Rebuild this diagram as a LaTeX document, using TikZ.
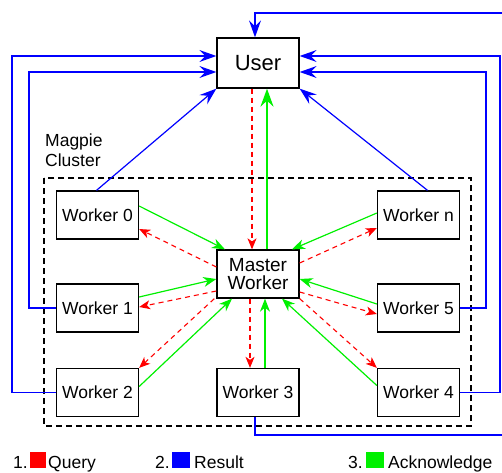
\documentclass[tikz,border=0pt]{standalone}
\usepackage{fontspec}
\setmainfont{Liberation Sans}
\usetikzlibrary{arrows.meta}
\definecolor{qred}{RGB}{255,0,0}
\definecolor{rblue}{RGB}{0,0,255}
\definecolor{agreen}{RGB}{0,240,0}
\tikzset{
  box/.style={draw=black,line width=1.3pt,minimum width=82pt,minimum height=48pt,inner sep=0pt,font=\fontsize{17.5}{20}\selectfont},
  res/.style={rblue,line width=1.2pt,-{Stealth[length=17pt,width=12pt,inset=6pt]}},
  qry/.style={qred,line width=1.1pt,dash pattern=on 5pt off 4pt,-{Stealth[length=11pt,width=9pt,inset=3pt]}},
  ack/.style={agreen,line width=1.2pt,-{Stealth[length=13pt,width=10pt,inset=4pt]}},
  ackbig/.style={agreen,line width=2pt,-{Stealth[length=18pt,width=13pt,inset=6pt]}},
  lab/.style={font=\fontsize{17.5}{20}\selectfont,inner sep=0pt},
  legsq/.style={minimum size=16pt,inner sep=0pt}
}
\begin{document}
\begin{tikzpicture}[x=1pt,y=1pt]
\useasboundingbox (0,0) rectangle (502,-472);
% cluster
\draw[black,line width=1.1pt,dash pattern=on 6pt off 4pt] (44,-178) rectangle (471,-426);
\node[lab,align=left,anchor=north west,font=\fontsize{17.5}{19.5}\selectfont] (clab) at (45,-134) {Magpie\\Cluster};
% nodes
\node[box,minimum height=50pt,font=\fontsize{22}{24}\selectfont] (user) at (258,-63) {User};
\node[box,align=center,font=\fontsize{19}{18.5}\selectfont] (master) at (258,-274) {Master\\Worker};
\node[box] (w0) at (97.5,-215) {Worker 0};
\node[box] (wn) at (418.5,-215) {Worker n};
\node[box] (w1) at (97.5,-308) {Worker 1};
\node[box] (w5) at (418.5,-308) {Worker 5};
\node[box] (w2) at (97.5,-392.5) {Worker 2};
\node[box] (w3) at (258,-392.5) {Worker 3};
\node[box] (w4) at (418.5,-392.5) {Worker 4};
% corner coordinates
\coordinate (c1) at (29,-72);
\coordinate (c2) at (12,-56);
\coordinate (c5) at (486,-72);
\coordinate (c4) at (500,-56);
\coordinate (c3a) at (255,-435);
\coordinate (c3b) at (506,-435);
\coordinate (c3c) at (506,-13);
\coordinate (c3d) at (255,-13);
% results (blue)
\draw[res] ([xshift=-1pt]w0.north) -- (user.south west);
\draw[res] ([xshift=9pt]wn.north) -- (user.south east);
\draw[res] (w1.west) -| (c1) -- ([yshift=-9pt]user.west);
\draw[res] (w2.west) -| (c2) -- ([yshift=7pt]user.west);
\draw[res] (w5.east) -| (c5) -- ([yshift=-9pt]user.east);
\draw[res] (w4.east) -| (c4) -- ([yshift=7pt]user.east);
\draw[res] ([xshift=-3pt]w3.south) -- (c3a) -- (c3b) -- (c3c) -- (c3d) -- ([xshift=-3pt]user.north);
% user <-> master
\draw[qry] ([xshift=-6pt]user.south) -- ([xshift=-6pt]master.north);
\draw[ackbig] ([xshift=9pt]master.north) -- ([xshift=9pt]user.south);
% worker 0
\draw[ack] ([yshift=9pt]w0.east) -- ([xshift=-33pt]master.north);
\draw[qry] ([yshift=7pt]master.west) -- ([yshift=-14pt]w0.east);
% worker n
\draw[ack] ([yshift=2pt]wn.west) -- ([xshift=34pt]master.north);
\draw[qry] ([yshift=11pt]master.east) -- ([yshift=-13pt]wn.west);
% worker 1
\draw[ack] ([yshift=11pt]w1.east) -- ([yshift=-5pt]master.west);
\draw[qry] ([yshift=-17pt]master.west) -- ([yshift=1pt]w1.east);
% worker 5
\draw[ack] ([yshift=4pt]w5.west) -- ([yshift=-5pt]master.east);
\draw[qry] ([yshift=-18pt]master.east) -- ([yshift=-6pt]w5.west);
% worker 2
\draw[ack] ([yshift=6pt]w2.east) -- ([xshift=-26pt]master.south);
\draw[qry] ([xshift=-2pt]master.south west) -- (w2.north east);
% worker 3
\draw[qry] ([xshift=-8pt]master.south) -- ([xshift=-8pt]w3.north);
\draw[ack] ([xshift=7pt]w3.north) -- ([xshift=7pt]master.south);
% worker 4
\draw[ack] ([yshift=7pt]w4.west) -- ([xshift=24pt]master.south);
\draw[qry] (master.south east) -- (w4.north west);
% legend
\node[lab,anchor=base west] (l1) at (13,-468) {1.};
\node[legsq,fill=qred,anchor=south west] (s1) at (30,-468) {};
\node[lab,anchor=base west] (t1) at (48,-468) {Query};
\node[lab,anchor=base west] (l2) at (155,-468) {2.};
\node[legsq,fill=rblue,anchor=south west,minimum width=18pt] (s2) at (172,-468) {};
\node[lab,anchor=base west] (t2) at (194,-468) {Result};
\node[lab,anchor=base west] (l3) at (348,-468) {3.};
\node[legsq,fill=agreen,anchor=south west,minimum width=18pt] (s3) at (366,-468) {};
\node[lab,anchor=base west] (t3) at (388,-468) {Acknowledge};
\end{tikzpicture}
\end{document}
